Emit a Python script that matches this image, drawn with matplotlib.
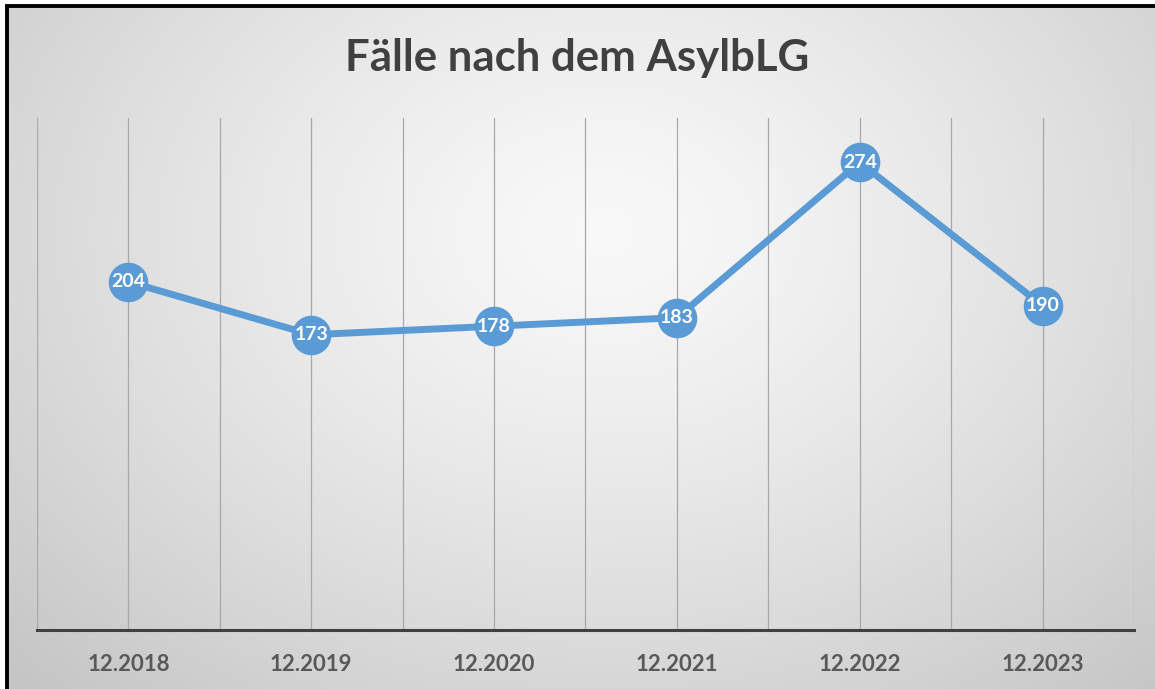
import numpy as np
import matplotlib
matplotlib.use("Agg")
import matplotlib.pyplot as plt
from matplotlib.patches import Rectangle

# data
years = ['12.2018', '12.2019', '12.2020', '12.2021', '12.2022', '12.2023']
cases = [204, 173, 178, 183, 274, 190]

plt.rcParams['font.family'] = ['Lato', 'DejaVu Sans']

W, H = 1155, 689
fig = plt.figure(figsize=(W / 100, H / 100), dpi=100)
fig.patch.set_facecolor('white')

# radial grey gradient like the Excel chart area
bg = fig.add_axes([8 / W, 0, 1 - 8 / W, 1 - 7 / H])
bg.set_axis_off()
yy, xx = np.mgrid[0:1:400j, 0:1:700j]
r = np.sqrt(((xx - 0.52) / 0.75) ** 2 + ((yy - 0.33) / 0.95) ** 2)
r = np.clip(r, 0, 1)
shade = 0.975 - 0.21 * r ** 1.3
img = np.dstack([shade, shade, shade])
bg.imshow(img, aspect='auto', extent=[0, 1, 1, 0], interpolation='bilinear')
bg.set_xlim(0, 1)
bg.set_ylim(1, 0)

# black frame on top and left
fig.patches.append(Rectangle((7 / W, -0.1), 1.2, 1 - 5.5 / H + 0.1,
                             transform=fig.transFigure, fill=False,
                             edgecolor='black', linewidth=2.8, zorder=5))

ax = fig.add_axes([37 / W, 59 / H, (1134 - 37) / W, (630 - 118) / H])
ax.patch.set_alpha(0)

x = np.arange(len(years))
ax.set_xlim(-0.5, len(years) - 0.5)
ax.set_ylim(0, 300)

# vertical grid lines at centers and between categories
for gx in np.arange(-0.5, len(years), 0.5):
    ax.axvline(gx, color='#a8a8a8', linewidth=0.9, zorder=1)

ax.plot(x, cases, color='#5B9BD5', linewidth=5, marker='o', markersize=28.5,
        markeredgewidth=0, solid_capstyle='round', zorder=3)

for xi, v in zip(x, cases):
    ax.text(xi, v, str(v), color='white', fontsize=14, fontweight='bold',
            ha='center', va='center', zorder=4)

for s in ['top', 'right', 'left']:
    ax.spines[s].set_visible(False)
ax.spines['bottom'].set_color('#404040')
ax.spines['bottom'].set_linewidth(2.2)

ax.set_yticks([])
ax.set_xticks(x)
ax.set_xticklabels(years, fontsize=16, fontweight='bold', color='#595959')
ax.tick_params(axis='x', length=0, pad=17)

fig.text(0.5, 1 - 58 / H, 'Fälle nach dem AsylbLG', ha='center', va='center',
         fontsize=31.5, fontweight='bold', color='#404040')

fig.savefig('out.png', dpi=100)
